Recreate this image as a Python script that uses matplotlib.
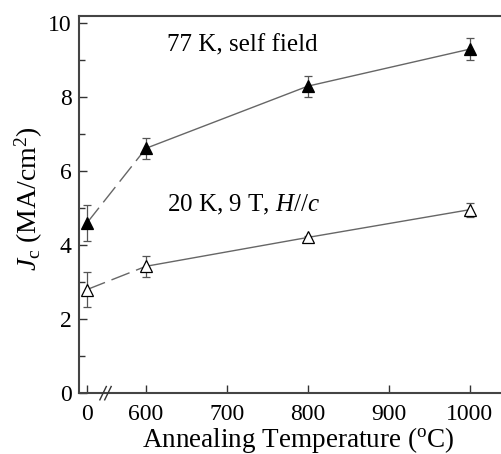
import matplotlib
matplotlib.use("Agg")
import matplotlib.pyplot as plt
import numpy as np

plt.rcParams['font.family'] = ['Liberation Serif', 'DejaVu Serif']
plt.rcParams['mathtext.fontset'] = 'custom'
plt.rcParams['mathtext.rm'] = 'Liberation Serif'
plt.rcParams['mathtext.it'] = 'Liberation Serif:italic'

# Data
temps = [0, 600, 800, 1000]
xtick_labels = ['0', '600', '700', '800', '900', '1000']
jc_77K = [4.6, 6.62, 8.3, 9.3]
err_77K = [0.48, 0.28, 0.28, 0.3]
jc_20K = [2.8, 3.43, 4.21, 4.96]
err_20K = [0.48, 0.29, 0.05, 0.19]

# Broken-axis mapping: 0 is drawn at position 527
BREAK_POS = 527
def xpos(t):
    return BREAK_POS if t == 0 else t

fig = plt.figure(figsize=(5.02, 4.54), dpi=100)
# axes extend past the right edge so the right spine is cut off
ax = fig.add_axes([0.157, 0.134, 0.872, 0.831])

xp = [xpos(t) for t in temps]
line_c = '#666666'

for yv, ev, face in [(jc_77K, err_77K, 'black'), (jc_20K, err_20K, 'white')]:
    ax.plot(xp[:2], yv[:2], color=line_c, lw=1.0, dashes=(14, 5), zorder=1)
    ax.plot(xp[1:], yv[1:], color=line_c, lw=1.0, zorder=1)
    ax.errorbar(xp, yv, yerr=ev, fmt='none', ecolor='#555555', elinewidth=0.9,
                capsize=3, capthick=0.9, zorder=2)
    ax.plot(xp, yv, linestyle='none', marker='^', ms=9, mfc=face, mec='black',
            mew=0.9, zorder=3)

ax.set_xlim(517, 1058)
ax.set_ylim(0, 10.2)

ax.set_xticks([BREAK_POS, 600, 700, 800, 900, 1000])
ax.set_xticklabels(xtick_labels)
ax.set_yticks([0, 2, 4, 6, 8, 10])
ax.set_yticks([1, 3, 5, 7, 9], minor=True)

ax.tick_params(axis='both', which='both', direction='in', labelsize=17,
               color='#333333', width=1.0)
ax.tick_params(axis='both', which='major', length=6)
ax.tick_params(axis='y', which='minor', length=4)
ax.tick_params(axis='x', pad=8)
ax.tick_params(axis='y', pad=5)

for s in ax.spines.values():
    s.set_color('#444444')
    s.set_linewidth(1.5)

# Axis break marks
for dx in (-3, 3):
    ax.plot([550 + dx - 4, 550 + dx + 4], [-0.18, 0.18], color='#333333',
            lw=1.0, clip_on=False, zorder=5)

ax.text(626, 9.4, '77 K, self field', fontsize=18, ha='left', va='center')
ax.text(626, 5.1, '20 K, 9 T, $H$//$c$', fontsize=18, ha='left', va='center')

ax.set_ylabel(r'$J_{\mathrm{c}}$ (MA/cm$^{2}$)', fontsize=20)
ax.yaxis.set_label_coords(-0.078, 0.515)
ax.set_xlabel(r'Annealing Temperature ($^{\mathrm{o}}$C)', fontsize=19.5, labelpad=0)

fig.savefig('out.png', dpi=100)
